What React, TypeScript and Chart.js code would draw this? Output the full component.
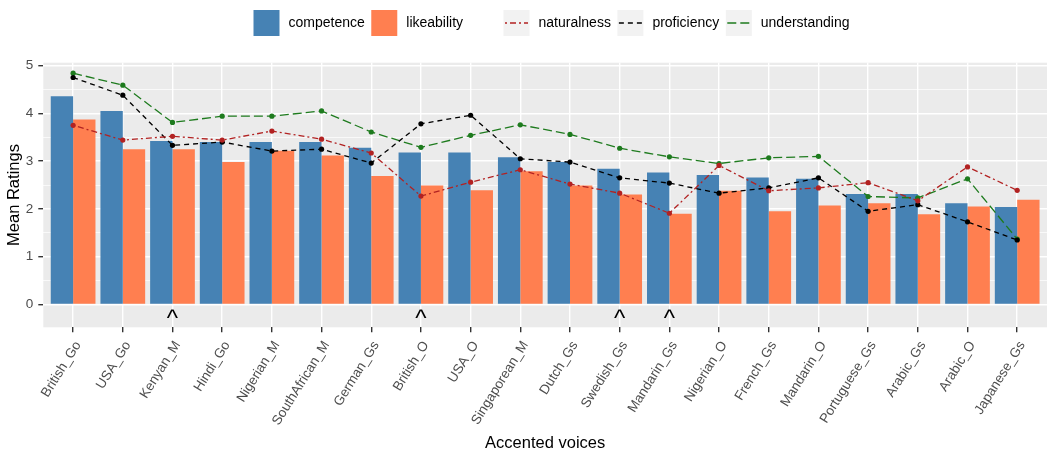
import { useEffect, useRef } from "react";
import { Chart, registerables } from "chart.js";

Chart.register(...registerables);

// Data
const voices = [
  "British_Go", "USA_Go", "Kenyan_M", "Hindi_Go", "Nigerian_M", "SouthAfrican_M",
  "German_Gs", "British_O", "USA_O", "Singaporean_M", "Dutch_Gs", "Swedish_Gs",
  "Mandarin_Gs", "Nigerian_O", "French_Gs", "Mandarin_O", "Portuguese_Gs",
  "Arabic_Gs", "Arabic_O", "Japanese_Gs",
];
const competence = [4.36, 4.05, 3.42, 3.4, 3.4, 3.4, 3.28, 3.18, 3.18, 3.08, 2.98, 2.84, 2.76, 2.71, 2.66, 2.63, 2.31, 2.31, 2.12, 2.04];
const likeability = [3.87, 3.25, 3.25, 2.98, 3.22, 3.12, 2.69, 2.49, 2.39, 2.79, 2.49, 2.3, 1.9, 2.38, 1.95, 2.07, 2.12, 1.89, 2.05, 2.19];
const naturalness = [3.75, 3.44, 3.52, 3.44, 3.63, 3.46, 3.17, 2.27, 2.56, 2.82, 2.52, 2.33, 1.91, 2.91, 2.38, 2.44, 2.55, 2.17, 2.88, 2.39];
const proficiency = [4.75, 4.38, 3.33, 3.4, 3.21, 3.25, 2.96, 3.78, 3.96, 3.05, 2.98, 2.65, 2.54, 2.33, 2.44, 2.65, 1.95, 2.09, 1.73, 1.35];
const understanding = [4.84, 4.59, 3.81, 3.94, 3.94, 4.05, 3.61, 3.29, 3.54, 3.76, 3.56, 3.27, 3.09, 2.95, 3.07, 3.1, 2.26, 2.23, 2.63, 1.37];
const flagged = ["Kenyan_M", "British_O", "Swedish_Gs", "Mandarin_Gs"];
const yTicks = [0, 1, 2, 3, 4, 5];

const FONT = "'Liberation Sans', Arial, sans-serif";
const BLUE = "#4682B4";
const CORAL = "#FF7F50";
const RED = "#B22222";
const BLACK = "#000000";
const GREEN = "#1E7B1E";

const DASH_NAT = [2, 3, 6, 3];
const DASH_PROF = [5, 4];
const DASH_UND = [9, 4];

// grey panel behind the grid, like ggplot's theme_grey
const panelPlugin = {
  id: "panel",
  beforeDraw(chart: any) {
    const { ctx, chartArea: a } = chart;
    ctx.save();
    ctx.fillStyle = "#EBEBEB";
    ctx.fillRect(a.left, a.top, a.right - a.left, a.bottom - a.top);
    ctx.restore();
  },
};

// "^" marks under some voices
const markerPlugin = {
  id: "markers",
  afterDatasetsDraw(chart: any) {
    const { ctx, scales } = chart;
    ctx.save();
    ctx.fillStyle = "#000";
    ctx.font = `24px ${FONT}`;
    ctx.textAlign = "center";
    ctx.textBaseline = "alphabetic";
    flagged.forEach((name) => {
      const i = voices.indexOf(name);
      ctx.fillText("^", scales.x.getPixelForValue(i), scales.y.getPixelForValue(-0.44));
    });
    ctx.restore();
  },
};

type Key = { label: string; kind: "box" | "line"; color: string; dash?: number[] };
const legendGroups: { start: number; items: Key[] }[] = [
  {
    start: 253.5,
    items: [
      { label: "competence", kind: "box", color: BLUE },
      { label: "likeability", kind: "box", color: CORAL },
    ],
  },
  {
    start: 503.5,
    items: [
      { label: "naturalness", kind: "line", color: RED, dash: DASH_NAT },
      { label: "proficiency", kind: "line", color: BLACK, dash: DASH_PROF },
      { label: "understanding", kind: "line", color: GREEN, dash: DASH_UND },
    ],
  },
];

const legendPlugin = {
  id: "ggLegend",
  afterDraw(chart: any) {
    const { ctx } = chart;
    const size = 26;
    const top = 10;
    ctx.save();
    ctx.font = `14px ${FONT}`;
    ctx.textBaseline = "middle";
    ctx.textAlign = "left";
    legendGroups.forEach((g) => {
      let x = g.start;
      g.items.forEach((it) => {
        if (it.kind === "box") {
          ctx.fillStyle = it.color;
          ctx.fillRect(x, top, size, size);
        } else {
          ctx.fillStyle = "#F2F2F2";
          ctx.fillRect(x, top, size, size);
          ctx.strokeStyle = it.color;
          ctx.lineWidth = 1.3;
          ctx.setLineDash(it.dash || []);
          ctx.beginPath();
          ctx.moveTo(x + 1.5, top + size / 2);
          ctx.lineTo(x + size - 1.5, top + size / 2);
          ctx.stroke();
          ctx.setLineDash([]);
        }
        ctx.fillStyle = "#000";
        ctx.fillText(it.label, x + size + 9, top + size / 2);
        x += size + 9 + ctx.measureText(it.label).width + 6.5;
      });
    });
    ctx.restore();
  },
};

function pts(values: number[]) {
  return values.map((v, i) => ({ x: i, y: v }));
}

function lineSet(label: string, values: number[], color: string, dash: number[]) {
  return {
    type: "line" as const,
    label,
    data: pts(values),
    borderColor: color,
    borderDash: dash,
    borderWidth: 1.3,
    pointRadius: 2.6,
    pointBackgroundColor: color,
    pointBorderWidth: 0,
    tension: 0,
    fill: false,
    order: 0,
  };
}

export function AccentChart() {
  const chartRef = useRef<HTMLCanvasElement>(null);
  const chartInstance = useRef<Chart | null>(null);

  useEffect(() => {
    if (!chartRef.current) return;
    if (chartInstance.current) chartInstance.current.destroy();

    const gridSteps = yTicks.flatMap((v, i) => (i < yTicks.length - 1 ? [v, v + 0.5] : [v]));

    chartInstance.current = new Chart(chartRef.current, {
      type: "bar",
      data: {
        datasets: [
          lineSet("naturalness", naturalness, RED, DASH_NAT),
          lineSet("proficiency", proficiency, BLACK, DASH_PROF),
          lineSet("understanding", understanding, GREEN, DASH_UND),
          {
            type: "bar",
            label: "competence",
            data: pts(competence),
            backgroundColor: BLUE,
            categoryPercentage: 0.9,
            barPercentage: 1,
            order: 1,
          },
          {
            type: "bar",
            label: "likeability",
            data: pts(likeability),
            backgroundColor: CORAL,
            categoryPercentage: 0.9,
            barPercentage: 1,
            order: 1,
          },
        ] as any,
      },
      options: {
        animation: false,
        responsive: true,
        maintainAspectRatio: false,
        layout: { padding: { top: 62.7, right: 5, left: 0, bottom: 0 } },
        scales: {
          x: {
            type: "linear",
            offset: false,
            min: -0.6,
            max: voices.length - 0.4,
            afterBuildTicks: (s: any) => {
              s.ticks = voices.map((_, i) => ({ value: i }));
            },
            afterFit: (s: any) => {
              s.height = 126.7;
            },
            ticks: {
              autoSkip: false,
              minRotation: 58,
              maxRotation: 58,
              padding: 6,
              labelOffset: 5,
              color: "#4D4D4D",
              font: { family: FONT, size: 13.5 },
              callback: (v: any) => voices[v as number],
            },
            grid: { offset: false, color: "#FFFFFF", lineWidth: 1.4, tickColor: "#333333", tickLength: 5 },
            border: { display: false },
            title: {
              display: true,
              text: "Accented voices",
              color: "#000",
              font: { family: FONT, size: 16.5 },
              padding: { top: 0, bottom: 1 },
            },
          },
          y: {
            min: -0.477,
            max: 5.06,
            afterBuildTicks: (s: any) => {
              s.ticks = gridSteps.map((v) => ({ value: v }));
            },
            afterFit: (s: any) => {
              s.width = 43.3;
            },
            ticks: {
              padding: 5,
              color: "#4D4D4D",
              font: { family: FONT, size: 13.5 },
              callback: (v: any) => (Number.isInteger(v) ? String(v) : ""),
            },
            grid: {
              color: "#FFFFFF",
              lineWidth: (c: any) => (Number.isInteger(c.tick?.value) ? 1.4 : 0.7),
              tickColor: (c: any) => (Number.isInteger(c.tick?.value) ? "#333333" : "rgba(0,0,0,0)"),
              tickLength: 5,
            },
            border: { display: false },
            title: {
              display: true,
              text: "Mean Ratings",
              color: "#000",
              font: { family: FONT, size: 16.5 },
              padding: { top: 4.5, bottom: 0 },
            },
          },
        },
        plugins: {
          legend: { display: false },
          tooltip: { enabled: false },
        },
      },
      plugins: [panelPlugin, markerPlugin, legendPlugin],
    });

    return () => {
      if (chartInstance.current) {
        chartInstance.current.destroy();
        chartInstance.current = null;
      }
    };
  }, []);

  return <canvas ref={chartRef} />;
}

export default function App() {
  return (
    <div style={{ position: "absolute", left: 0, top: 0, width: 1052, height: 454, background: "#fff" }}>
      <AccentChart />
    </div>
  );
}
